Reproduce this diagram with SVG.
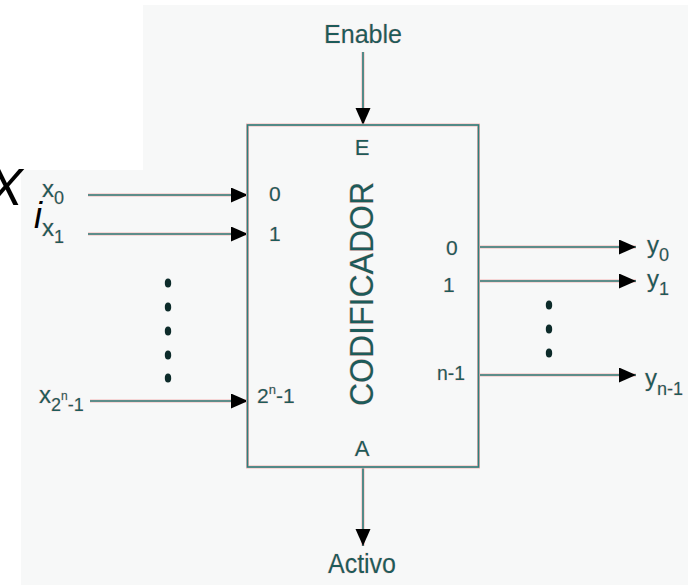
<svg xmlns="http://www.w3.org/2000/svg" width="691" height="585" viewBox="0 0 691 585">
  <style>
    .t { font-family: "Liberation Sans", Arial, sans-serif; fill: #1d5b59; stroke: #f3b9b9; stroke-width: 0.6; paint-order: stroke; }
    .big { font-family: "Liberation Sans", Arial, sans-serif; fill: #000; font-style: italic; }
    .halo { stroke: #f5b3b3; stroke-width: 3; fill: none; }
    .ln { stroke: #2b807d; stroke-width: 1.6; fill: none; }
    .dot { fill: #0d2b2a; }
  </style>
  <defs>
    <marker id="ah" markerUnits="userSpaceOnUse" markerWidth="18" markerHeight="16" refX="17" refY="7.5" orient="auto">
      <path d="M0,0 L17,7.5 L0,15 z" fill="#000"/>
    </marker>
  </defs>

  <rect x="0" y="0" width="691" height="585" fill="#ffffff"/>
  <path d="M143,5 L688,5 L688,585 L21,585 L21,170 L143,170 Z" fill="#f7f8f8"/>

  <g id="stray-title">
    <text class="big" x="442" y="-10" font-size="40" font-style="normal" font-weight="bold">y</text>
  </g>
  <g id="xi-label">
    <text class="big" x="-12" y="205" font-size="52">X</text>
    <text class="big" x="34" y="228" font-size="36">i</text>
  </g>

  <g id="connectors">
    <g class="halo">
      <line x1="363" y1="52" x2="363" y2="125"/>
      <line x1="363" y1="467" x2="363" y2="546"/>
      <line x1="88" y1="195" x2="248" y2="195"/>
      <line x1="88" y1="234" x2="248" y2="234"/>
      <line x1="90" y1="401" x2="248" y2="401"/>
      <line x1="478" y1="247" x2="636" y2="247"/>
      <line x1="478" y1="281" x2="636" y2="281"/>
      <line x1="478" y1="375" x2="636" y2="375"/>
    </g>
    <g class="ln">
      <line x1="363" y1="52" x2="363" y2="125" marker-end="url(#ah)"/>
      <line x1="363" y1="467" x2="363" y2="546" marker-end="url(#ah)"/>
      <line x1="88" y1="195" x2="248" y2="195" marker-end="url(#ah)"/>
      <line x1="88" y1="234" x2="248" y2="234" marker-end="url(#ah)"/>
      <line x1="90" y1="401" x2="248" y2="401" marker-end="url(#ah)"/>
      <line x1="478" y1="247" x2="636" y2="247" marker-end="url(#ah)"/>
      <line x1="478" y1="281" x2="636" y2="281" marker-end="url(#ah)"/>
      <line x1="478" y1="375" x2="636" y2="375" marker-end="url(#ah)"/>
    </g>
  </g>

  <g id="codificador">
    <rect x="247.5" y="125" width="231" height="342" fill="none" stroke="#f5b3b3" stroke-width="3"/>
    <rect x="247.5" y="125" width="231" height="342" fill="none" stroke="#2b807d" stroke-width="1.6"/>
    <text class="t" x="362" y="155" font-size="22" text-anchor="middle">E</text>
    <text class="t" x="362" y="456" font-size="22" text-anchor="middle">A</text>
    <text class="t" transform="translate(373,294) rotate(-90)" x="0" y="0" font-size="34" text-anchor="middle" textLength="224" lengthAdjust="spacingAndGlyphs">CODIFICADOR</text>
    <text class="t" x="269" y="201" font-size="21">0</text>
    <text class="t" x="269" y="241" font-size="21">1</text>
    <text class="t" x="257" y="403" font-size="21">2<tspan font-size="13" dy="-9">n</tspan><tspan dy="9">-1</tspan></text>
    <text class="t" x="446" y="255" font-size="21">0</text>
    <text class="t" x="443" y="292" font-size="21">1</text>
    <text class="t" x="437" y="380" font-size="21" textLength="28" lengthAdjust="spacingAndGlyphs">n-1</text>
  </g>

  <g id="enable">
    <text class="t" x="363" y="43" font-size="25" text-anchor="middle" textLength="78" lengthAdjust="spacingAndGlyphs">Enable</text>
  </g>
  <g id="activo">
    <text class="t" x="362" y="573" font-size="27" text-anchor="middle" textLength="68" lengthAdjust="spacingAndGlyphs">Activo</text>
  </g>

  <g id="inputs">
    <text class="t" x="42" y="197" font-size="24">x<tspan font-size="18" dy="7">0</tspan></text>
    <text class="t" x="42" y="236" font-size="24">x<tspan font-size="18" dy="7">1</tspan></text>
    <text class="t" x="39" y="403" font-size="24">x<tspan font-size="18" dy="8">2</tspan><tspan font-size="12" dy="-11">n</tspan><tspan font-size="18" dy="11">-1</tspan></text>
    <g class="dot">
      <ellipse cx="168" cy="283" rx="3.2" ry="4.5"/>
      <ellipse cx="168" cy="307" rx="3.2" ry="4.5"/>
      <ellipse cx="168" cy="331" rx="3.2" ry="4.5"/>
      <ellipse cx="168" cy="355" rx="3.2" ry="4.5"/>
      <ellipse cx="168" cy="378" rx="3.2" ry="4.5"/>
    </g>
  </g>

  <g id="outputs">
    <text class="t" x="647" y="253" font-size="24">y<tspan font-size="18" dy="8">0</tspan></text>
    <text class="t" x="647" y="287" font-size="24">y<tspan font-size="18" dy="8">1</tspan></text>
    <text class="t" x="645" y="386" font-size="24">y<tspan font-size="18" dy="9">n-1</tspan></text>
    <g class="dot">
      <ellipse cx="549" cy="305" rx="3.2" ry="4.5"/>
      <ellipse cx="549" cy="329" rx="3.2" ry="4.5"/>
      <ellipse cx="549" cy="353" rx="3.2" ry="4.5"/>
    </g>
  </g>
</svg>
